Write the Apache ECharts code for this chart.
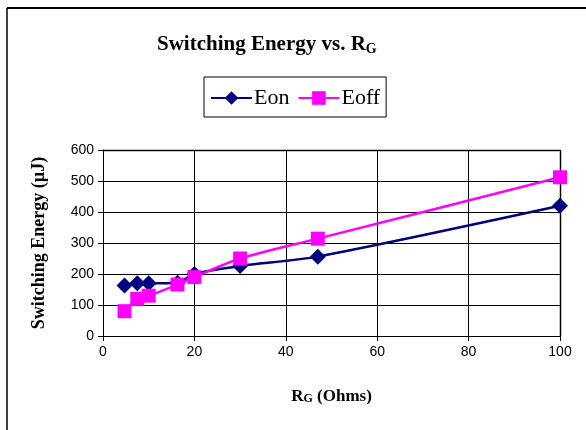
<!DOCTYPE html>
<html>
<head>
<meta charset="utf-8">
<script src="https://cdn.jsdelivr.net/npm/echarts@6/dist/echarts.min.js"></script>
<style>
  html, body { margin: 0; padding: 0; background: #fff; }
  #chart { width: 586px; height: 430px; }
</style>
</head>
<body>
<div id="chart"></div>
<script>
// gate resistance (Ohms)
const rg = [4.7, 7.5, 10, 16.3, 20, 30, 47, 100]
// switching energy (uJ)
const eon = [163, 170, 170, 172, 200, 226, 256, 420]
const eoff = [80, 120, 130, 166, 190, 250, 314, 512]

const serif = 'Times New Roman, Liberation Serif, serif'

const chart = echarts.init(document.getElementById('chart'))
const option = {
  backgroundColor: '#fff',
  animation: false,
  title: {
    text: '{a|Switching Energy vs. R}{s|G}',
    left: 152,
    top: 28,
    textStyle: {
      rich: {
        a: { fontFamily: serif, fontSize: 21, fontWeight: 'bold', color: '#000' },
        s: { fontFamily: serif, fontSize: 14, fontWeight: 'bold', color: '#000', padding: [9, 0, 0, 0] }
      }
    }
  },
  legend: {
    left: 204,
    top: 77,
    padding: [10, 6, 8, 6],
    borderColor: '#000',
    borderWidth: 1,
    itemWidth: 41,
    itemHeight: 17,
    itemGap: 8,
    textStyle: { fontFamily: serif, fontSize: 22, color: '#000', padding: [0, 0, 0, -3] },
    data: ['Eon', 'Eoff']
  },
  grid: { left: 103, right: 26, top: 150, bottom: 94 },
  xAxis: {
    type: 'value',
    min: 0,
    max: 100,
    interval: 20,
    name: '{a|R}{s|G}{a| (Ohms)}',
    nameLocation: 'middle',
    nameGap: 52,
    nameTextStyle: {
      rich: {
        a: { fontFamily: serif, fontSize: 17, fontWeight: 'bold', color: '#000' },
        s: { fontFamily: serif, fontSize: 12, fontWeight: 'bold', color: '#000', padding: [5, 0, 0, 0] }
      }
    },
    axisLine: { lineStyle: { color: '#000', width: 1 } },
    axisTick: { show: true, length: 5, lineStyle: { color: '#000' } },
    axisLabel: { fontFamily: 'Liberation Sans, Arial, sans-serif', fontSize: 14, color: '#000', margin: 9 },
    splitLine: { show: true, lineStyle: { color: '#000', width: 1 } }
  },
  yAxis: {
    type: 'value',
    min: 0,
    max: 600,
    interval: 100,
    name: 'Switching Energy (µJ)',
    nameLocation: 'middle',
    nameGap: 55,
    nameTextStyle: { fontFamily: serif, fontSize: 18, fontWeight: 'bold', color: '#000' },
    axisLine: { show: true, lineStyle: { color: '#000', width: 1 } },
    axisTick: { show: true, length: 5, lineStyle: { color: '#000' } },
    axisLabel: { fontFamily: 'Liberation Sans, Arial, sans-serif', fontSize: 14, color: '#000', margin: 9 },
    splitLine: { show: true, lineStyle: { color: '#000', width: 1 } }
  },
  series: [
    {
      name: 'Eon',
      type: 'line',
      smooth: 0.25,
      data: rg.map((x, i) => [x, eon[i]]),
      symbol: 'diamond',
      symbolSize: 16,
      itemStyle: { color: '#000080' },
      lineStyle: { color: '#000080', width: 2.5 },
      z: 2
    },
    {
      name: 'Eoff',
      type: 'line',
      smooth: 0.25,
      data: rg.map((x, i) => [x, eoff[i]]),
      symbol: 'rect',
      symbolSize: 14,
      itemStyle: { color: '#ff00ff' },
      lineStyle: { color: '#ff00ff', width: 2.5 },
      z: 3
    }
  ],
  graphic: [
    // outer chart frame (top and left edges only)
    { type: 'line', shape: { x1: 7, y1: 8, x2: 586, y2: 8 }, style: { stroke: '#000', lineWidth: 2 } },
    { type: 'line', shape: { x1: 7, y1: 8, x2: 7, y2: 430 }, style: { stroke: '#000', lineWidth: 1.5 } },
    // plot area border top/right in gray
    { type: 'line', shape: { x1: 103, y1: 150.5, x2: 560.5, y2: 150.5 }, style: { stroke: '#888', lineWidth: 2 }, z: 0 },
    { type: 'line', shape: { x1: 560.5, y1: 150.5, x2: 560.5, y2: 336 }, style: { stroke: '#888', lineWidth: 2 }, z: 0 }
  ]
}
chart.setOption(option)
</script>
</body>
</html>
